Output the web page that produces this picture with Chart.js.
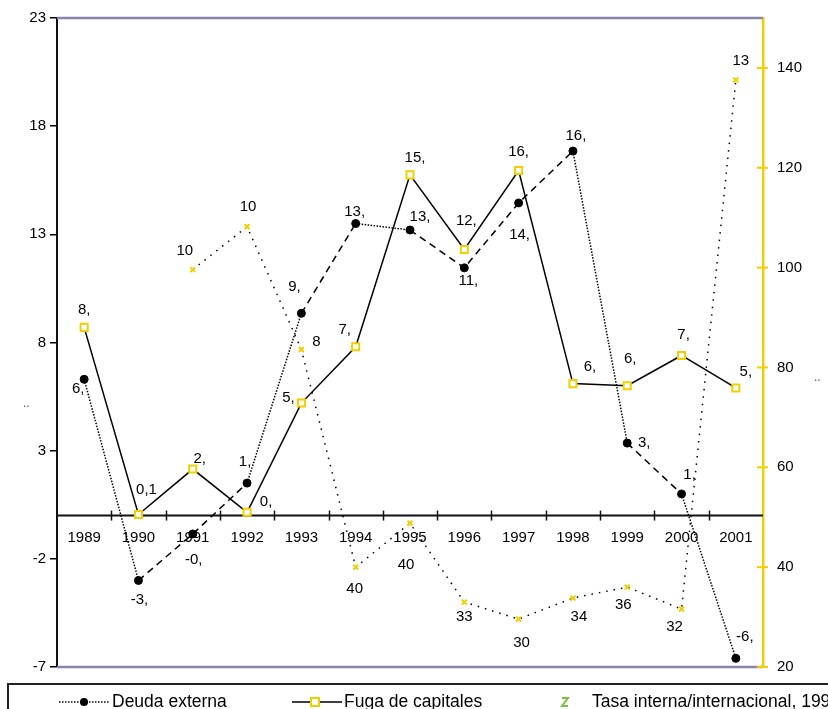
<!DOCTYPE html>
<html>
<head>
<meta charset="utf-8">
<script src="https://cdn.jsdelivr.net/npm/chart.js@4/dist/chart.umd.min.js"></script>
<style>
html,body{margin:0;padding:0;background:#fff;}
#wrap{position:relative;width:828px;height:709px;overflow:hidden;background:#fff;}
#c{position:absolute;left:0;top:0;}
#legend{position:absolute;left:7px;top:683px;width:900px;height:40px;border:2px solid #222;box-sizing:border-box;font-family:"Liberation Sans",Arial,sans-serif;font-size:17.5px;color:#000;}
.it{position:absolute;top:6px;height:20px;line-height:20px;white-space:nowrap;}
.it svg{position:absolute;top:0;}
.frag{position:absolute;font-family:"Liberation Sans",Arial,sans-serif;font-size:12px;color:#555;}
</style>
</head>
<body>
<div id="wrap">
<canvas id="c" width="828" height="709"></canvas>
<div class="frag" style="left:23px;top:396px;">..</div>
<div class="frag" style="left:814px;top:370px;">..</div>
<div id="legend">
  <div class="it" style="left:48px;">
    <svg width="54" height="20" style="left:0"><line x1="2" y1="11" x2="52" y2="11" stroke="#000" stroke-width="1.5" stroke-dasharray="1.5,1.5"/><circle cx="27" cy="11" r="4" fill="#000"/></svg>
    <span style="position:absolute;left:55px;">Deuda externa</span>
  </div>
  <div class="it" style="left:283px;">
    <svg width="52" height="20" style="left:0"><line x1="0" y1="11" x2="50" y2="11" stroke="#000" stroke-width="1.5"/><rect x="19" y="7" width="8" height="8" fill="#fff" stroke="#f0d000" stroke-width="2"/></svg>
    <span style="position:absolute;left:52px;">Fuga de capitales</span>
  </div>
  <div class="it" style="left:548px;">
    <svg width="20" height="20" style="left:0"><path d="M5 7 L11 7 L5 15 L11 15" stroke="#7fbf3f" stroke-width="2" fill="none"/></svg>
    <span style="position:absolute;left:35px;">Tasa interna/internacional, 1990=100</span>
  </div>
</div>
</div>
<script>
// ---- data ----
const years = ['1989','1990','1991','1992','1993','1994','1995','1996','1997','1998','1999','2000','2001'];
const deudaExterna   = [6.3, -3.0, -0.85, 1.5, 9.35, 13.5, 13.2, 11.45, 14.45, 16.85, 3.35, 1.0, -6.6];
const fugaCapitales  = [8.7, 0.05, 2.15, 0.15, 5.2, 7.8, 15.75, 12.3, 15.95, 6.1, 6.0, 7.4, 5.9];
const tasaInterna    = [null, null, 99.6, 108.2, 83.6, 40, 48.8, 33, 29.6, 33.8, 36, 31.6, 137.6];
const deudaLabels    = ['6,','-3,','-0,','1,','9,','13,','13,','11,','14,','16,','3,','1,','-6,'];
const fugaLabels     = ['8,','0,1','2,','0,','5,','7,','15,','12,','16,','6,','6,','7,','5,'];
const tasaLabels     = [null,null,'10','10','8','40','40','33','30','34','36','32','13'];
const leftAxisTicks  = [-7, -2, 3, 8, 13, 18, 23];
const rightAxisTicks = [20, 40, 60, 80, 100, 120, 140];

// ---- styles (label placement offsets, dash patterns) ----
const deudaLabelOff = [[-6,10],[1,19],[1,26],[-2,-21],[-7,-26],[-1,-12],[10,-13],[4,13],[1,32],[3,-15],[17,0],[8,-19],[9,-21]];
const fugaLabelOff  = [[0,-17],[8,-25],[7,-10],[19,-10],[-13,-5],[-11,-17],[5,-17],[2,-29],[0,-19],[17,-17],[3,-27],[2,-21],[10,-16]];
const tasaLabelOff  = [null,null,[-8,-19],[1,-20],[15,-8],[-1,22],[-4,42],[0,15],[3,24],[6,19],[-4,18],[-7,18],[5,-19]];
const deudaSegStyle = ['dot','dash','dash','dot','dash','dot','dash','dash','dash','dot','dash','dot'];
const YEL = '#f0d000';
const FONT = '"Liberation Sans", Arial, sans-serif';

const decor = {
  id: 'decor',
  beforeDatasetsDraw(chart) {
    const {ctx, chartArea: a, scales} = chart;
    ctx.save();
    ctx.strokeStyle = '#8a84ac'; ctx.lineWidth = 2.5;
    ctx.beginPath(); ctx.moveTo(a.left, a.top); ctx.lineTo(a.right, a.top); ctx.stroke();
    ctx.beginPath(); ctx.moveTo(a.left, a.bottom); ctx.lineTo(a.right, a.bottom); ctx.stroke();
    const y0 = scales.y.getPixelForValue(0);
    ctx.strokeStyle = '#111'; ctx.lineWidth = 2;
    ctx.beginPath(); ctx.moveTo(a.left, y0); ctx.lineTo(a.right, y0); ctx.stroke();
    const n = years.length, w = (a.right - a.left) / n;
    ctx.lineWidth = 1.5;
    for (let i = 1; i < n; i++) {
      const x = Math.round(a.left + i * w) + 0.5;
      ctx.beginPath(); ctx.moveTo(x, y0 - 5); ctx.lineTo(x, y0 + 5); ctx.stroke();
    }
    ctx.strokeStyle = YEL; ctx.lineWidth = 2;
    rightAxisTicks.forEach(v => {
      const y = scales.y1.getPixelForValue(v);
      ctx.beginPath(); ctx.moveTo(a.right - 6, y); ctx.lineTo(a.right + 5, y); ctx.stroke();
    });
    ctx.restore();
  },
  afterDatasetsDraw(chart) {
    const {ctx} = chart;
    ctx.save();
    ctx.fillStyle = '#000';
    ctx.font = '15px ' + FONT;
    ctx.textAlign = 'center'; ctx.textBaseline = 'middle';
    const sets = [[0, deudaLabels, deudaLabelOff],[1, fugaLabels, fugaLabelOff],[2, tasaLabels, tasaLabelOff]];
    sets.forEach(([di, labs, offs]) => {
      const meta = chart.getDatasetMeta(di);
      meta.data.forEach((pt, i) => {
        if (labs[i] == null || offs[i] == null) return;
        ctx.fillText(labs[i], pt.x + offs[i][0], pt.y + offs[i][1]);
      });
    });
    ctx.restore();
  }
};

new Chart(document.getElementById('c'), {
  type: 'line',
  data: {
    labels: years,
    datasets: [
      {
        label: 'Deuda externa', data: deudaExterna, yAxisID: 'y',
        borderColor: '#000', borderWidth: 1.5, tension: 0,
        segment: { borderDash: c => deudaSegStyle[c.p0DataIndex] === 'dot' ? [1.5, 1.5] : [7, 5] },
        pointStyle: 'circle', pointRadius: 4, pointBackgroundColor: '#000', pointBorderColor: '#000', pointBorderWidth: 1
      },
      {
        label: 'Fuga de capitales', data: fugaCapitales, yAxisID: 'y',
        borderColor: '#000', borderWidth: 1.5, tension: 0,
        pointStyle: 'rect', pointRadius: 5, pointBackgroundColor: '#fff', pointBorderColor: YEL, pointBorderWidth: 2
      },
      {
        label: 'Tasa interna/internacional', data: tasaInterna, yAxisID: 'y1',
        borderColor: '#000', borderWidth: 1.5, borderDash: [1.5, 6], tension: 0,
        pointStyle: 'crossRot', pointRadius: 3.5, pointBorderColor: YEL, pointBorderWidth: 2
      }
    ]
  },
  options: {
    responsive: false, animation: false,
    layout: { padding: { top: 18, bottom: 42, left: 0, right: 0 } },
    plugins: { legend: { display: false }, tooltip: { enabled: false } },
    scales: {
      x: {
        position: { y: 0 }, offset: true,
        grid: { display: false }, border: { display: false },
        ticks: { color: '#000', font: { family: FONT, size: 15 }, padding: 5, maxRotation: 0, autoSkip: false }
      },
      y: {
        position: 'left', min: -7, max: 23,
        afterBuildTicks: s => { s.ticks = leftAxisTicks.map(v => ({ value: v })); },
        afterFit: s => { s.width = 57; },
        grid: { display: true, drawOnChartArea: false, drawTicks: true, tickLength: 7, color: '#000', lineWidth: 1.5 },
        border: { display: true, color: '#111', width: 2 },
        ticks: { color: '#000', font: { family: FONT, size: 15 }, padding: 4 }
      },
      y1: {
        position: 'right', min: 20, max: 150,
        afterBuildTicks: s => { s.ticks = rightAxisTicks.map(v => ({ value: v })); },
        afterFit: s => { s.width = 65; },
        grid: { display: false },
        border: { display: true, color: YEL, width: 2.5 },
        ticks: { color: '#000', font: { family: FONT, size: 15 }, padding: 6 }
      }
    }
  },
  plugins: [decor]
});
</script>
</body>
</html>
